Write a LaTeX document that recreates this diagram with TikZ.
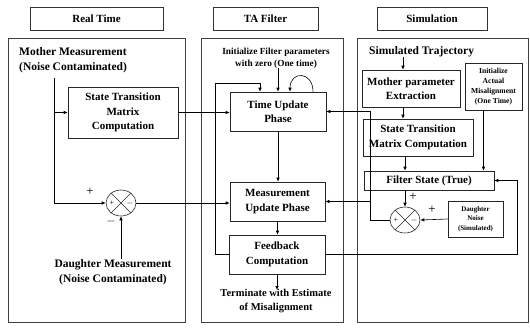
\documentclass[tikz,border=0pt]{standalone}
\usepackage{fontspec}
\setmainfont{Liberation Serif}
\usetikzlibrary{arrows.meta,shapes.geometric,calc}

\tikzset{
  arr/.style={-{Latex[length=4pt,width=3.5pt]}, line width=0.6pt},
  ln/.style={line width=0.6pt},
  panel/.style={draw=black!75, line width=0.8pt, rectangle, inner sep=0pt},
  header/.style={draw=black!80, line width=0.8pt, rectangle, inner sep=0pt,
    font=\bfseries\fontsize{11}{13}\selectfont},
  blk/.style={draw=black!85, line width=0.6pt, rectangle, inner sep=0pt, align=center,
    font=\bfseries\fontsize{11}{14.5}\selectfont},
  txt/.style={inner sep=0pt, align=center, font=\bfseries\fontsize{11}{15}\selectfont},
  small/.style={font=\bfseries\fontsize{7}{9.5}\selectfont},
  sumj/.style={draw=black!85, line width=0.6pt, ellipse, minimum width=30pt,
    minimum height=26pt, inner sep=0pt},
  sgn/.style={inner sep=0pt, font=\fontsize{13}{13}\selectfont},
  isgn/.style={inner sep=0pt, font=\fontsize{8}{8}\selectfont},
}

\begin{document}
\begin{tikzpicture}[x=1pt,y=-1pt]
\useasboundingbox (0,0) rectangle (530,327);

% column headers
\node[header, minimum width=133pt, minimum height=23pt] (hRT) at (96.5,18.5) {Real Time};
\node[header, minimum width=105pt, minimum height=23pt] (hTA) at (265.5,18.5) {TA Filter};
\node[header, minimum width=110pt, minimum height=23pt] (hSim) at (432,18.5) {Simulation};

% column panels
\node[panel, minimum width=177pt, minimum height=284pt] (pL) at (96.5,180) {};
\node[panel, minimum width=142pt, minimum height=284pt] (pM) at (272,180) {};
\node[panel, minimum width=171pt, minimum height=284pt] (pR) at (442.5,180) {};

% ---- real time column ----
\node[txt, anchor=west, align=left, font=\bfseries\fontsize{11.5}{15.5}\selectfont] (mm) at (19,60)
  {Mother Measurement\\(Noise Contaminated)};
\node[blk, minimum width=110pt, minimum height=51pt] (stm) at (123,112.5)
  {State Transition\\Matrix\\Computation};
\node[sumj] (sumL) at (121,203) {};
\node[txt, font=\bfseries\fontsize{11.5}{15.5}\selectfont] (dm) at (113,272)
  {Daughter Measurement\\(Noise Contaminated)};
\coordinate (mmx) at (54,78);

% ---- TA filter column ----
\node[txt, font=\bfseries\fontsize{9.3}{12}\selectfont] (init) at (276,58)
  {Initialize Filter parameters\\with zero (One time)};
\node[blk, minimum width=96pt, minimum height=39pt] (tu) at (278,111.5) {Time Update\\Phase};
\node[blk, minimum width=95pt, minimum height=39pt] (mu) at (277.5,201.5) {Measurement\\Update Phase};
\node[blk, minimum width=96pt, minimum height=39pt] (fb) at (277,254.5) {Feedback\\Computation};
\node[txt, font=\bfseries\fontsize{10.5}{14}\selectfont] (term) at (276,301)
  {Terminate with Estimate\\of Misalignment};
\coordinate (fbx) at (215,83);

% ---- simulation column ----
\node[txt, anchor=west, font=\bfseries\fontsize{11.5}{14}\selectfont] (st) at (369,52) {Simulated Trajectory};
\node[blk, minimum width=98pt, minimum height=37pt] (mpe) at (411,88.5) {Mother parameter\\Extraction};
\node[blk, font=\bfseries\fontsize{7.6}{10}\selectfont, minimum width=57pt, minimum height=47pt] (iam) at (493.5,86.5)
  {Initialize\\Actual\\Misalignment\\(One Time)};
\node[blk, minimum width=110pt, minimum height=37pt] (stm2) at (418,137.5)
  {State Transition\\Matrix Computation};
\node[blk, minimum width=130pt, minimum height=19pt] (fs) at (429,180.5) {Filter State (True)};
\node[sumj] (sumR) at (405,220) {};
\node[blk, small, minimum width=55pt, minimum height=36pt] (dn) at (475.5,219)
  {Daughter\\Noise\\(Simulated)};
\coordinate (rx) at (370,111.5);
\coordinate (fbr) at (517,254.5);

% summing junction markings
\foreach \s in {sumL,sumR}{
  \draw[ln, black!85] (\s.45) -- (\s.225) (\s.135) -- (\s.315);
  \node[isgn] at ([xshift=-9pt]\s.center) {+};
  \node[isgn] at ([xshift=9pt]\s.center) {$-$};
}
\node[sgn] at (90,192) {+};
\node[sgn] at (111,221) {$-$};
\node[sgn] at (413,197) {+};
\node[sgn] at (432,210) {+};

% ---- connectors: real time ----
\draw[arr] (mmx) |- (sumL.west);
\draw[arr] (mmx |- stm.west) -- (stm.west);
\draw[arr] (sumL.south |- dm.north) -- (sumL.south);
\draw[arr] (sumL.east) -- (sumL.east -| mu.west);
\draw[arr] (stm.east) -- (stm.east -| tu.west);

% ---- connectors: TA filter ----
\draw[arr] (init.south -| tu.north) -- (tu.north);
\draw[arr] ([xshift=35pt]tu.north) .. controls +(0,-21) and +(0,-21) .. ([xshift=12pt]tu.north);
\draw[arr] (fb.west) -| (fbx) -| ([xshift=-18pt]tu.north);
\draw[arr] (tu.south) -- (tu.south |- mu.north);
\draw[arr] (mu.south) -- (mu.south |- fb.north);
\draw[arr] (fb.south) -- ([yshift=-1pt]fb.south |- term.north);

% ---- connectors: simulation ----
\draw[arr] ([xshift=-8pt]mpe.north |- st.south) -- ([xshift=-8pt]mpe.north);
\draw[arr] ([xshift=-8pt]mpe.south) -- ([xshift=-8pt]mpe.south |- stm2.north);
\draw[arr] (sumR.north |- stm2.south) -- (sumR.north |- fs.north);
\draw[arr] ([xshift=-10pt]iam.south) -- ([xshift=-10pt]iam.south |- fs.north);
\draw[arr] (fs.south -| sumR.north) -- (sumR.north);
\draw[arr] (dn.west) -- (sumR.east);
\draw[arr] (sumR.west) -| (rx) -- (rx -| tu.east);
\draw[arr] (rx |- mu.east) -- (mu.east);
\draw[arr] (fb.east) -- (fbr) |- (fs.east);
\end{tikzpicture}
\end{document}
